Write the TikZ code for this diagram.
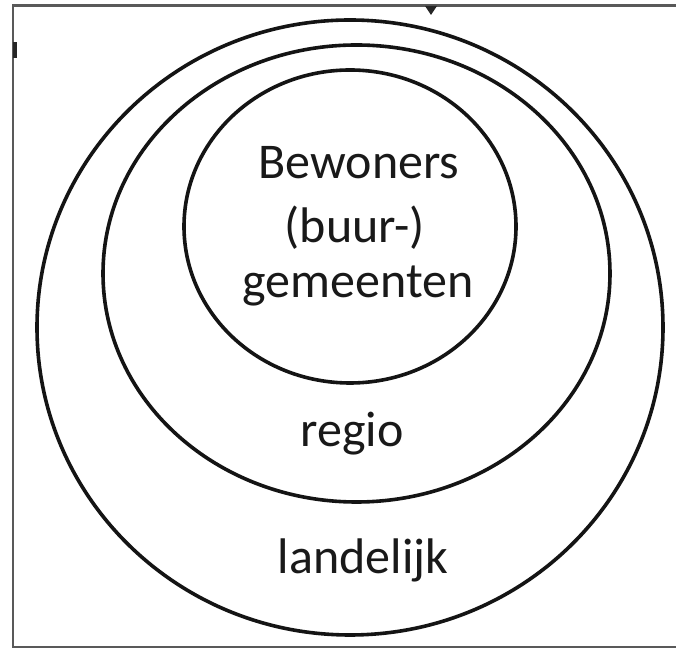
\documentclass[tikz,border=0pt]{standalone}
\usepackage{fontspec}
\setmainfont{Carlito}
\usetikzlibrary{shapes.geometric}
\begin{document}
\begin{tikzpicture}[x=0.5pt,y=-0.5pt,
  ring/.style={draw=black!92, line width=1.8pt, ellipse, inner sep=0pt},
  framebox/.style={draw=black!65, line width=1.1pt},
  lbl/.style={font=\fontsize{25}{30}\selectfont, inner sep=0pt, text=black!90, anchor=base}]
\useasboundingbox (0,0) rectangle (676,651);
\fill[white] (0,0) rectangle (676,651);
\draw[framebox] (676,5.5) -- (13,5.5) -- (13,647) -- (676,647);
% small marks from the cropped source
\fill[black!85] (425,6) -- (437,6) -- (431,15) -- cycle;
\fill[black!85] (13,42) rectangle (17,58);
\node[ring, minimum width=313pt, minimum height=307.5pt] (outer) at (350,327.5) {};
\node[ring, minimum width=253.5pt, minimum height=228.5pt] (middle) at (356.5,273.5) {};
\node[ring, minimum width=166pt, minimum height=156.5pt] (inner) at (350,226.5) {};
\node[lbl] (t1) at (359,179) {Bewoners};
\node[lbl] (t2) at (355,243) {(buur-)};
\node[lbl] (t3) at (358,298) {gemeenten};
\node[lbl] (regio) at (352,447) {regio};
\node[lbl] (land) at (363,574) {landelijk};
\end{tikzpicture}
\end{document}
